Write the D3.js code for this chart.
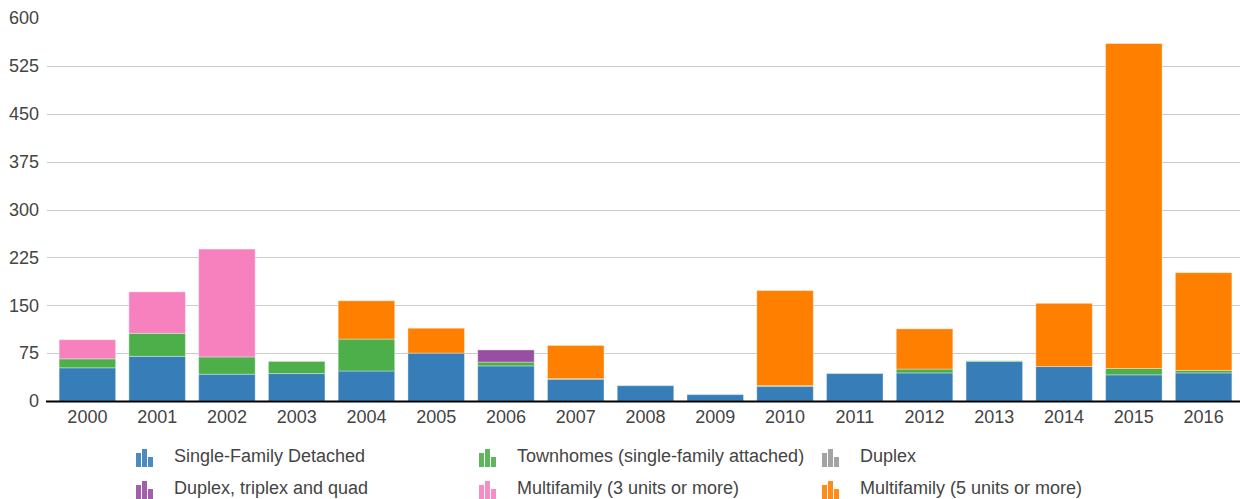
<!DOCTYPE html>
<html><head><meta charset="utf-8">
<script src="https://cdn.jsdelivr.net/npm/d3@7"></script>
<style>body{margin:0;background:#fff}svg{display:block;font-family:Arial,"Liberation Sans",sans-serif}</style>
</head><body><svg id="c" width="1240" height="499"></svg>
<script>
const years = ["2000","2001","2002","2003","2004","2005","2006","2007","2008","2009","2010","2011","2012","2013","2014","2015","2016"];
const seriesNames = ["Single-Family Detached","Townhomes (single-family attached)","Duplex","Duplex, triplex and quad","Multifamily (3 units or more)","Multifamily (5 units or more)"];
const singleFamily = [52,70,42,43,47,75,55,34,24,10,23,43,44,62,54,41,44];
const townhomes    = [14,36,27,19,50,0,6,1,0,0,1,0,6,1,0,10,4];
const duplex       = [0,0,0,0,0,0,0,0,0,0,0,0,0,0,0,0,0];
const duplexQuad   = [0,0,0,0,0,0,19,0,0,0,0,0,0,0,0,0,0];
const multi3       = [30,65,169,0,0,0,0,0,0,0,0,0,0,0,0,0,0];
const multi5       = [0,0,0,0,60,39,0,52,0,0,149,0,63,0,99,509,153];
const yTicks = [0,75,150,225,300,375,450,525,600];
const colors = ["#377eb8","#4daf4a","#999999","#984ea3","#f781bf","#ff7f00"];

const seriesData = [singleFamily,townhomes,duplex,duplexQuad,multi3,multi5];
const rows = years.map((y,i)=>{const r={year:y};seriesNames.forEach((s,k)=>r[s]=seriesData[k][i]);return r;});
const stack = d3.stack().keys(seriesNames)(rows);

const svg = d3.select("#c");
const x = d3.scaleBand().domain(years).range([52.5,1238.5]).paddingInner(0.19).paddingOuter(0.095);
const y = d3.scaleLinear().domain([0,600]).range([401,18]);

const grid = svg.append("g");
grid.selectAll("line").data(yTicks.filter(t=>t>0&&t<600)).join("line")
  .attr("x1",47).attr("x2",1240).attr("y1",d=>Math.round(y(d))+0.5).attr("y2",d=>Math.round(y(d))+0.5)
  .attr("stroke","#cccccc").attr("stroke-width",1);

const yAxis = svg.append("g").attr("transform","translate(39,0)")
  .call(d3.axisLeft(y).tickValues(yTicks).tickSize(0).tickPadding(0));
yAxis.select(".domain").remove();
yAxis.selectAll("text").attr("font-size",18).attr("fill","#444").attr("font-family","Arial, 'Liberation Sans', sans-serif");

svg.append("g").selectAll("g").data(stack).join("g")
  .attr("fill",(d,i)=>colors[i])
  .selectAll("rect").data(d=>d).join("rect")
  .attr("x",d=>x(d.data.year)).attr("width",x.bandwidth())
  .attr("y",d=>y(d[1])).attr("height",d=>Math.max(0,y(d[0])-y(d[1])))
  .attr("stroke","#fff").attr("stroke-opacity",0.35).attr("stroke-width",1);

svg.append("line").attr("x1",46).attr("x2",1240).attr("y1",401.5).attr("y2",401.5).attr("stroke","#000").attr("stroke-width",2);

const xAxis = svg.append("g").attr("transform","translate(0,410)")
  .call(d3.axisBottom(x).tickSize(0).tickPadding(0));
xAxis.select(".domain").remove();
xAxis.selectAll("text").attr("font-size",18).attr("fill","#444").attr("dy","0.71em").attr("y",0).attr("font-family","Arial, 'Liberation Sans', sans-serif");

const legend = svg.append("g");
const colX = [136,479,822];
const rowY = [448,480];
seriesNames.forEach((name,i)=>{
  const g = legend.append("g").attr("transform",`translate(${colX[i%3]},${rowY[Math.floor(i/3)]})`);
  [[0,14],[6,18],[12,10]].forEach(([bx,h])=>{
    g.append("rect").attr("x",bx).attr("y",19-h).attr("width",5).attr("height",h).attr("fill",colors[i]).attr("opacity",0.9);
  });
  g.append("text").attr("x",38).attr("y",14).attr("font-size",18).attr("fill","#444").text(name);
});
</script></body></html>
